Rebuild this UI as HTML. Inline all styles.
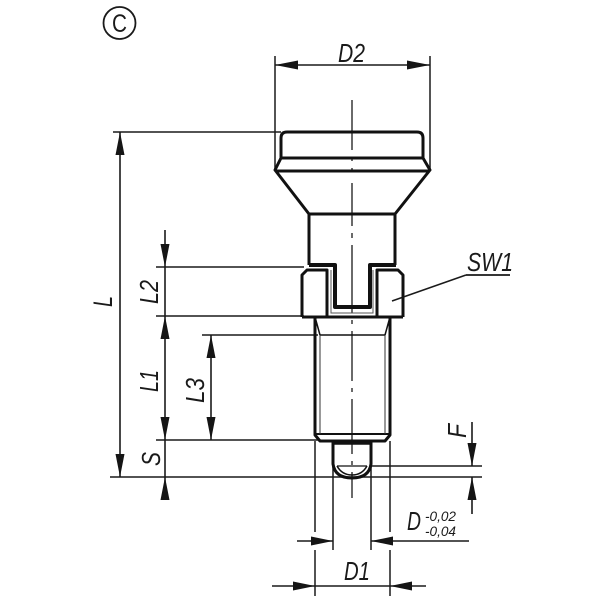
<!DOCTYPE html>
<html><head><meta charset="utf-8"><style>
html,body{margin:0;padding:0;background:#fff;width:600px;height:600px;overflow:hidden}
svg{display:block}
text{font-family:"Liberation Sans",sans-serif;font-style:italic;fill:#1a1a1a}
</style></head><body>
<svg width="600" height="600" viewBox="0 0 600 600" xmlns="http://www.w3.org/2000/svg">
<!-- circle C -->
<circle cx="119.500" cy="23" r="16" fill="none" stroke="#1a1a1a" stroke-width="1.800"/>
<text x="119.500" y="32" font-size="25" text-anchor="middle" textLength="15" lengthAdjust="spacingAndGlyphs" style="font-style:normal">C</text>
<!-- thin lines -->
<g fill="none" stroke="#1a1a1a" stroke-width="1.500">
<path d="M275,56V170M430,56V170"/>
<path d="M113,132H281"/>
<path d="M156,267H304M156,316H304M202,335H318M156,440H320M110,477H482M371,466H482"/>
<path d="M315,441V532M390,441V532M333,441V550M371,441V550M315,550V596M390,550V596"/>
<path d="M466,275H510" stroke-width="1.800"/>
<path d="M466,275L392,301"/>
<path d="M352,100V150M352,157V161M352,168V172M352,183V226M352,233V238M352,245V313M352,320V324M352,331V381M352,388V392M352,399V454M352,461V465M352,472V498" stroke-width="1.300"/>
</g>
<!-- dimension lines -->
<g fill="none" stroke="#1a1a1a" stroke-width="1.600">
<path d="M275,65H430"/>
<path d="M120,132V477"/>
<path d="M165,230V500"/>
<path d="M211,335V440"/>
<path d="M472,422V466M472,477V514"/>
<path d="M297,541H333M371,541H469"/>
<path d="M272,586H426"/>
</g>
<g fill="#151515">
<path d="M275,65L298,60.500V69.500ZM430,65L407,60.500V69.500Z"/>
<path d="M120,132L115.500,155H124.500ZM120,477L115.500,454H124.500Z"/>
<path d="M165,267L160.500,244H169.500ZM165,316L160.500,339H169.500ZM165,440L160.500,417H169.500ZM165,477L160.500,500H169.500Z"/>
<path d="M211,335L206.500,358H215.500ZM211,440L206.500,417H215.500Z"/>
<path d="M472,466L467.500,443H476.500ZM472,477L467.500,500H476.500Z"/>
<path d="M333,541L311,536.500V545.500ZM371,541L393,536.500V545.500Z"/>
<path d="M315,586L293,581.500V590.500ZM390,586L412,581.500V590.500Z"/>
</g>
<!-- part outline -->
<g fill="none" stroke="#111" stroke-width="3" stroke-linejoin="round">
<path d="M281,158V138Q281,132 287,132H417Q423,132 423,138V158"/>
<path d="M281,158H423"/>
<path d="M281,158L275,170L309,214M423,158L430,170L395,214"/>
<path d="M275,171H430"/>
<path d="M309,214H395"/>
<path d="M309,214V265M395,214V265"/>
<path d="M309,265H335V307H370V265H396" stroke-width="4"/>
<path d="M302,317V275L307,270H327V317M403,317V275L398,270H377V317"/>
<path d="M302,317H403"/>
<path d="M315,317V435L320,441H385L390,435V317"/>
<path d="M315,317L320,335M390,317L385,335" stroke-width="1.500"/>
<path d="M320,335H385" stroke-width="1.500"/>
<path d="M315,434H390" stroke-width="2"/>
<path d="M333,441V464Q335,478 352,478Q369,478 371,464V441"/>
<path d="M333,443H371" stroke-width="3.500"/>
<path d="M337,466Q342,475 352,475Q362,475 367,466" stroke-width="1.500"/>
<path d="M337,466H367" stroke-width="1.200"/>
</g>
<g fill="none" stroke="#555" stroke-width="1">
<path d="M331,270V313H373V270"/>
<path d="M320,335V434M385,335V434" stroke="#333"/>
</g>
<!-- labels -->
<text x="338" y="62" font-size="26" textLength="27" lengthAdjust="spacingAndGlyphs">D2</text>
<text x="467" y="271" font-size="26" textLength="46" lengthAdjust="spacingAndGlyphs">SW1</text>
<text x="407" y="530" font-size="26" textLength="14" lengthAdjust="spacingAndGlyphs">D</text>
<text x="425" y="521" font-size="14" textLength="31" lengthAdjust="spacingAndGlyphs">-0,02</text>
<text x="425" y="536" font-size="14" textLength="31" lengthAdjust="spacingAndGlyphs">-0,04</text>
<text x="344" y="580" font-size="26" textLength="26" lengthAdjust="spacingAndGlyphs">D1</text>
<text font-size="27" textLength="11" lengthAdjust="spacingAndGlyphs" transform="translate(112,307) rotate(-90)">L</text>
<text font-size="26" textLength="24" lengthAdjust="spacingAndGlyphs" transform="translate(158,304) rotate(-90)">L2</text>
<text font-size="26" textLength="22" lengthAdjust="spacingAndGlyphs" transform="translate(158,392) rotate(-90)">L1</text>
<text font-size="26" textLength="25" lengthAdjust="spacingAndGlyphs" transform="translate(204,403) rotate(-90)">L3</text>
<text font-size="26" textLength="14" lengthAdjust="spacingAndGlyphs" transform="translate(160,466) rotate(-90)">S</text>
<text font-size="26" textLength="14" lengthAdjust="spacingAndGlyphs" transform="translate(466,438) rotate(-90)">F</text>
</svg>
</body></html>
